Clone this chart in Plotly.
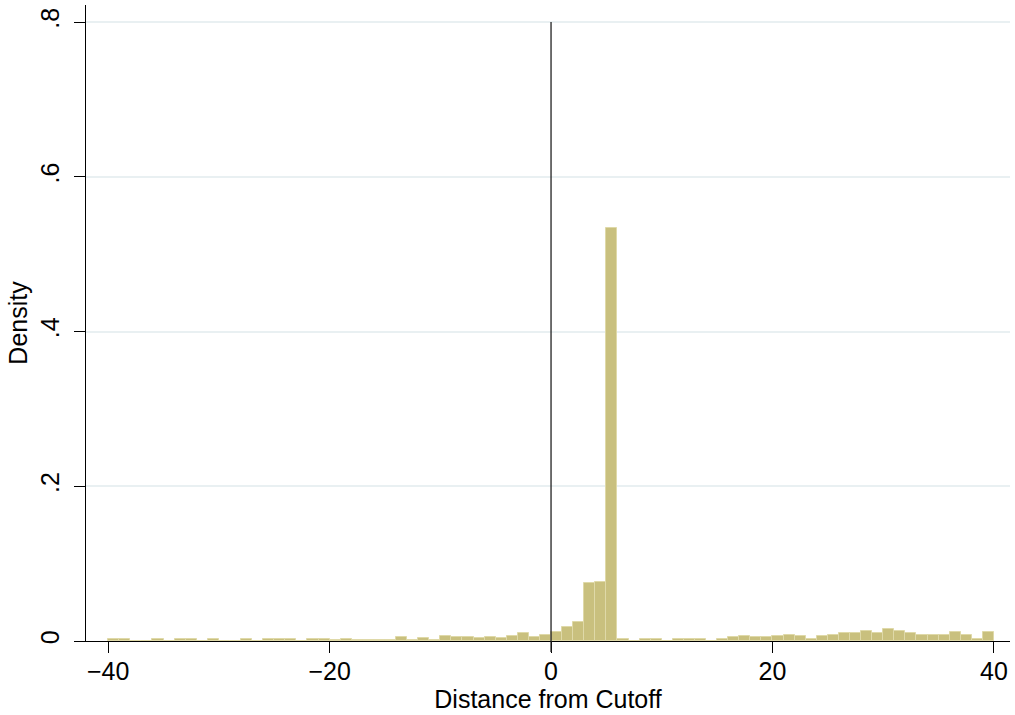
import plotly.graph_objects as go

# Histogram bins (left edges, width 1) and density values
bin_left = [-40, -39, -38, -37, -36, -35, -34, -33, -32, -31,
            -30, -29, -28, -27, -26, -25, -24, -23, -22, -21,
            -20, -19, -18, -17, -16, -15, -14, -13, -12, -11,
            -10, -9, -8, -7, -6, -5, -4, -3, -2, -1,
            0, 1, 2, 3, 4, 5, 6, 7, 8, 9,
            10, 11, 12, 13, 14, 15, 16, 17, 18, 19,
            20, 21, 22, 23, 24, 25, 26, 27, 28, 29,
            30, 31, 32, 33, 34, 35, 36, 37, 38, 39]
density = [0.0025, 0.0025, 0.0, 0.0, 0.002, 0.0, 0.002, 0.002, 0.0, 0.002,
           0.0, 0.0, 0.002, 0.0, 0.002, 0.002, 0.002, 0.0, 0.002, 0.002,
           0.0015, 0.0028, 0.001, 0.001, 0.001, 0.001, 0.005, 0.001, 0.0036, 0.0015,
           0.0062, 0.0055, 0.0052, 0.0042, 0.0055, 0.004, 0.0068, 0.0097, 0.0058, 0.0078,
           0.0121, 0.0187, 0.0243, 0.0752, 0.0765, 0.534, 0.0025, 0.0, 0.002, 0.002,
           0.0, 0.0025, 0.0025, 0.002, 0.0, 0.0022, 0.0058, 0.007, 0.0048, 0.0048,
           0.0062, 0.0078, 0.006, 0.0032, 0.0067, 0.0078, 0.0108, 0.0098, 0.0123, 0.0097,
           0.0152, 0.0135, 0.0097, 0.0075, 0.0082, 0.0075, 0.0114, 0.0082, 0.002, 0.0114]

x_ticks = [-40, -20, 0, 20, 40]
x_ticktext = ["\u221240", "\u221220", "0", "20", "40"]
y_ticks = [0, 0.2, 0.4, 0.6, 0.8]
y_ticktext = ["0", ".2", ".4", ".6", ".8"]
cutoff = 0

FONT = "Liberation Sans, Arial, sans-serif"
X_RANGE = [-42.0, 41.45]
Y_RANGE = [0, 0.822]

fig = go.Figure()
fig.add_trace(go.Bar(
    x=bin_left, y=density, width=1, offset=0,
    marker=dict(color="#c9c07e", line=dict(color="#dfd9a8", width=1)),
    showlegend=False, hoverinfo="skip",
))

fig.add_shape(type="line", xref="x", yref="paper",
              x0=cutoff, x1=cutoff, y0=-11 / 636.5, y1=0.8 / Y_RANGE[1],
              line=dict(color="#222222", width=1.3), layer="above")

fig.update_layout(
    width=1015, height=715,
    margin=dict(l=86, r=5, t=5, b=73.5),
    paper_bgcolor="white", plot_bgcolor="white",
    font=dict(family=FONT, size=25, color="black"),
    bargap=0,
    xaxis=dict(
        range=X_RANGE, tickvals=x_ticks, ticktext=x_ticktext,
        ticks="outside", ticklen=11, tickwidth=1.3, tickcolor="black",
        ticklabelstandoff=-3,
        showline=True, linecolor="black", linewidth=1.3,
        showgrid=False, zeroline=False,
        tickfont=dict(size=25),
        title=dict(text="Distance from Cutoff", font=dict(size=25), standoff=0),
    ),
    yaxis=dict(
        range=Y_RANGE, tickvals=y_ticks, ticktext=y_ticktext,
        ticks="outside", ticklen=11, tickwidth=1.3, tickcolor="black",
        tickangle=-90, ticklabelstandoff=5,
        showline=True, linecolor="black", linewidth=1.3,
        showgrid=True, gridcolor="#e9f0f2", gridwidth=1.5, zeroline=False,
        tickfont=dict(size=25),
        title=dict(text="Density", font=dict(size=25), standoff=1),
    ),
)

fig.write_html("out.html")
